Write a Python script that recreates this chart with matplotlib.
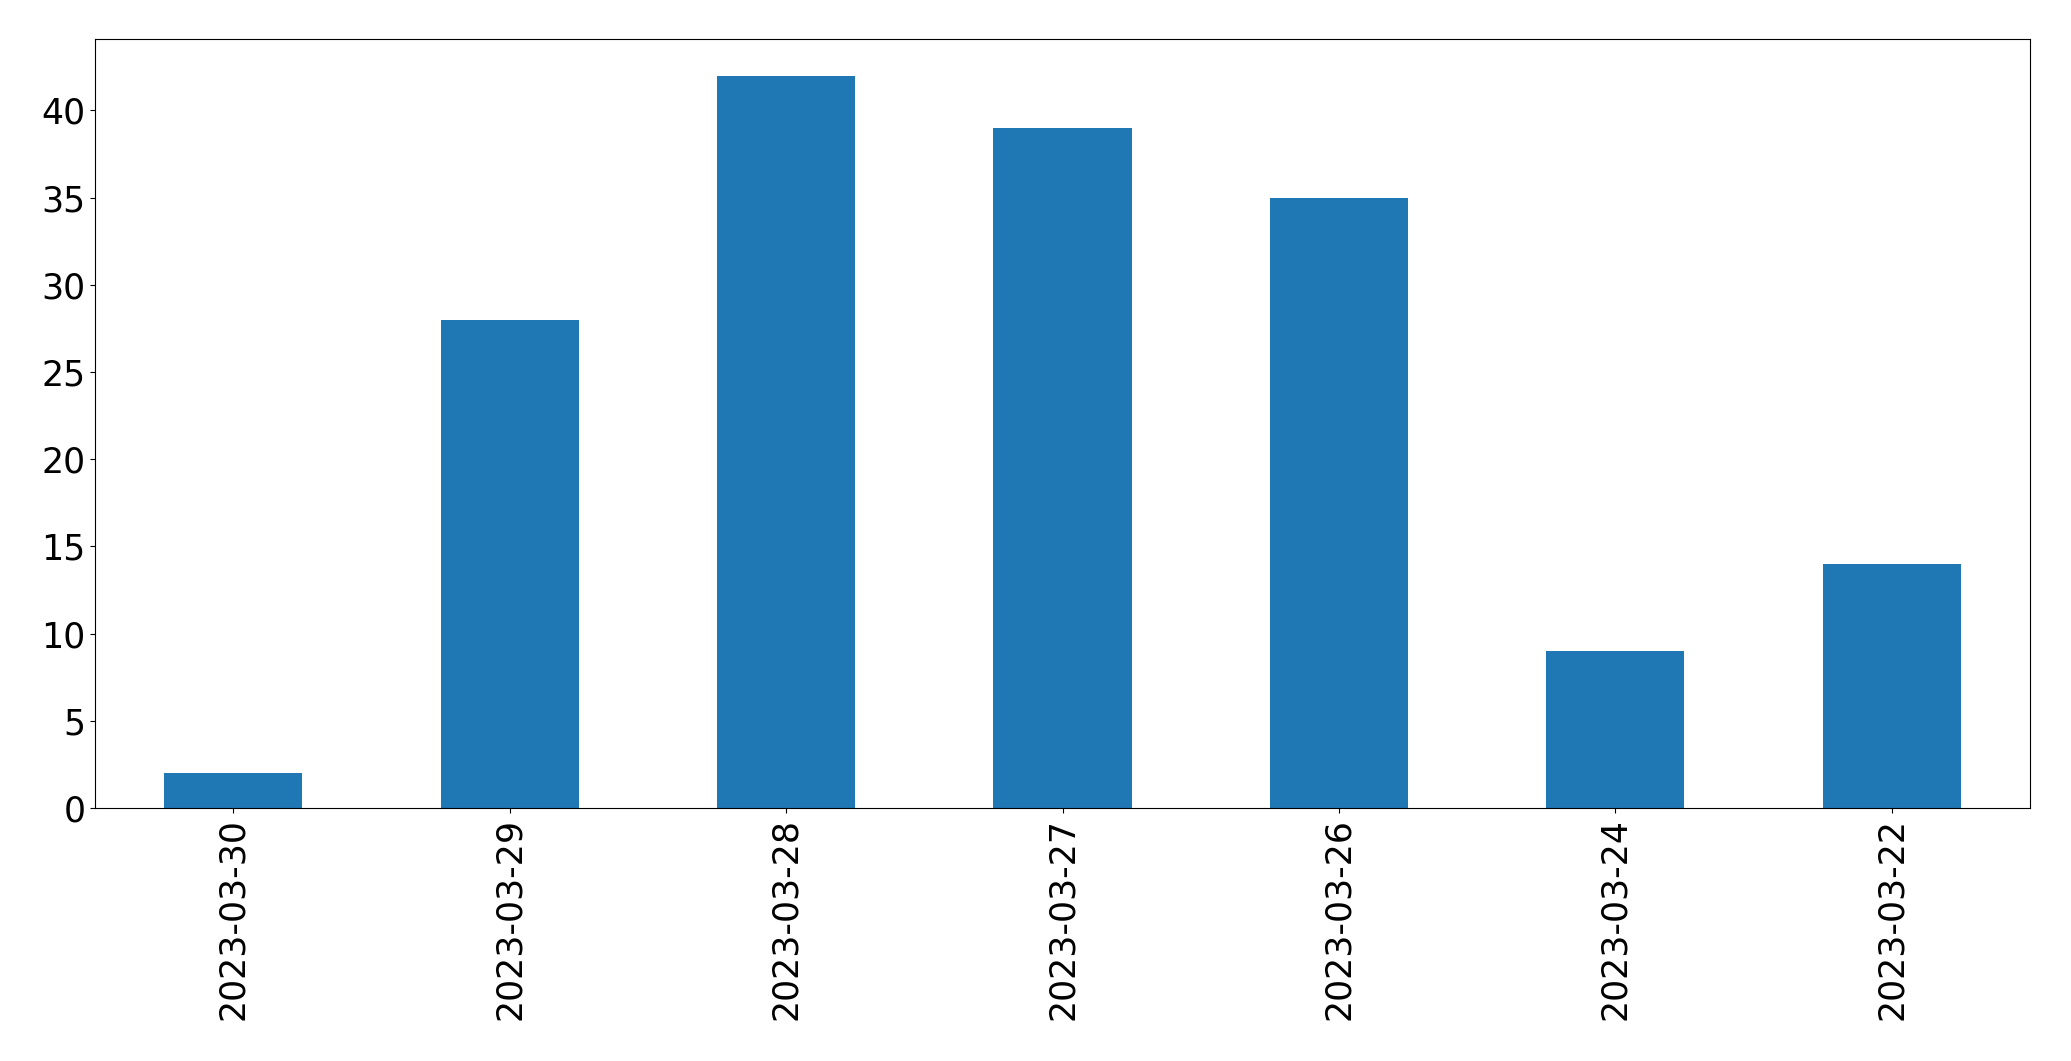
import matplotlib
matplotlib.use("Agg")
import matplotlib.pyplot as plt
import numpy as np

dates = ["2023-03-30", "2023-03-29", "2023-03-28", "2023-03-27",
         "2023-03-26", "2023-03-24", "2023-03-22"]
counts = [2, 28, 42, 39, 35, 9, 14]

fig = plt.figure(figsize=(20.71, 10.61), dpi=100)
ax = fig.add_axes([95 / 2071, 1 - 808 / 1061, (2030 - 95) / 2071, (808 - 39) / 1061])

x = np.arange(len(dates))
ax.bar(x, counts, width=0.5, color="#1f77b4")
ax.set_xlim(-0.5, len(dates) - 0.5)
ax.set_xticks(x)
ax.set_xticklabels(dates, rotation=90)
ax.tick_params(axis="both", labelsize=25)

fig.savefig("out.png", dpi=100)
